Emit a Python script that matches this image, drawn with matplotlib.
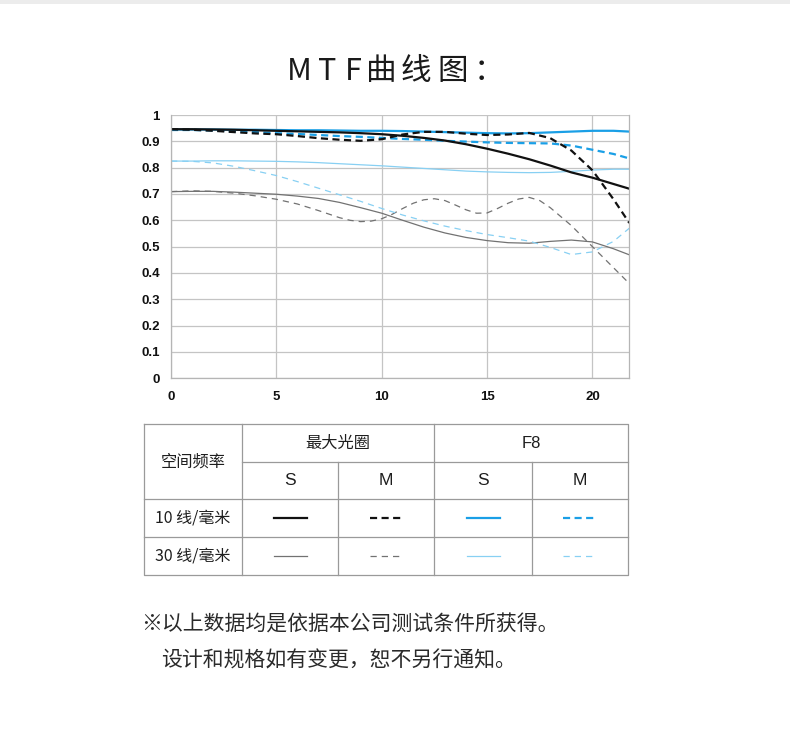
import matplotlib
matplotlib.use('Agg')
import matplotlib.pyplot as plt
from matplotlib.patches import Rectangle

# ---------------- data ----------------
freq = [0, 1, 2, 3, 4, 5, 6, 7, 8, 9, 10, 11, 12, 13, 14, 15, 16, 17, 18, 19, 20, 21, 21.75]

s10_max = [0.946, 0.946, 0.945, 0.944, 0.942, 0.940, 0.938, 0.936, 0.934, 0.931, 0.927, 0.921,
           0.913, 0.903, 0.889, 0.872, 0.853, 0.832, 0.808, 0.782, 0.762, 0.738, 0.720]
m10_max = [0.946, 0.944, 0.940, 0.935, 0.930, 0.927, 0.920, 0.912, 0.906, 0.902, 0.908, 0.926,
           0.936, 0.936, 0.929, 0.924, 0.926, 0.932, 0.912, 0.865, 0.790, 0.680, 0.590]
s10_f8 = [0.945, 0.945, 0.945, 0.944, 0.944, 0.943, 0.942, 0.942, 0.941, 0.940, 0.940, 0.939,
          0.937, 0.935, 0.933, 0.931, 0.930, 0.931, 0.934, 0.937, 0.940, 0.940, 0.937]
m10_f8 = [0.943, 0.943, 0.941, 0.938, 0.935, 0.931, 0.928, 0.924, 0.920, 0.917, 0.913, 0.909,
          0.906, 0.902, 0.899, 0.896, 0.894, 0.893, 0.892, 0.884, 0.868, 0.852, 0.835]
s30_f8 = [0.825, 0.825, 0.826, 0.826, 0.825, 0.824, 0.822, 0.819, 0.815, 0.811, 0.807, 0.802,
          0.797, 0.792, 0.787, 0.784, 0.782, 0.781, 0.782, 0.786, 0.791, 0.794, 0.794]
m30_f8 = [0.825, 0.824, 0.818, 0.805, 0.788, 0.770, 0.747, 0.722, 0.697, 0.672, 0.645, 0.620,
          0.598, 0.578, 0.561, 0.546, 0.534, 0.521, 0.497, 0.470, 0.480, 0.520, 0.570]
s30_max = [0.709, 0.710, 0.710, 0.707, 0.703, 0.699, 0.692, 0.683, 0.668, 0.648, 0.627, 0.600,
           0.574, 0.552, 0.535, 0.523, 0.515, 0.513, 0.520, 0.525, 0.518, 0.492, 0.469]
freq_m30_max = [0, 1, 2, 3, 4, 5, 6, 7, 8, 8.5, 9, 9.5, 10, 10.5, 11, 11.5, 12, 12.5, 13, 13.5,
                14, 14.5, 15, 15.5, 16, 16.5, 17, 17.5, 18, 19, 20, 21, 21.75]
m30_max = [0.709, 0.712, 0.710, 0.703, 0.693, 0.680, 0.662, 0.637, 0.610, 0.600, 0.595, 0.597,
           0.606, 0.623, 0.645, 0.665, 0.678, 0.682, 0.675, 0.658, 0.640, 0.627, 0.628, 0.645,
           0.665, 0.681, 0.687, 0.675, 0.648, 0.580, 0.500, 0.420, 0.360]

x_ticks = [0, 5, 10, 15, 20]
y_ticks = [0, 0.1, 0.2, 0.3, 0.4, 0.5, 0.6, 0.7, 0.8, 0.9, 1]
y_tick_labels = ['0', '0.1', '0.2', '0.3', '0.4', '0.5', '0.6', '0.7', '0.8', '0.9', '1']

title_chars = ['M', 'T', 'F', '曲', '线', '图', '：']
col_header = '空间频率'
group_labels = ['最大光圈', 'F8']
sub_labels = ['S', 'M', 'S', 'M']
row_labels = ['10 线/毫米', '30 线/毫米']
note_lines = ['※以上数据均是依据本公司测试条件所获得。', '设计和规格如有变更，恕不另行通知。']

# ---------------- styles ----------------
BLACK = '#111111'
BLUE = '#1a9fe6'
GRAY = '#727272'
LBLUE = '#88d0f3'
style_s10_max = dict(color=BLACK, lw=1.6, ls='-')
style_m10_max = dict(color=BLACK, lw=1.6, dashes=(3.2, 2))
style_s10_f8 = dict(color=BLUE, lw=1.6, ls='-')
style_m10_f8 = dict(color=BLUE, lw=1.6, dashes=(3.2, 2))
style_s30_max = dict(color=GRAY, lw=0.9, ls='-')
style_m30_max = dict(color=GRAY, lw=0.9, dashes=(5, 4))
style_s30_f8 = dict(color=LBLUE, lw=0.9, ls='-')
style_m30_f8 = dict(color=LBLUE, lw=0.9, dashes=(5, 4))

CJK = ['Noto Sans CJK SC', 'DejaVu Sans']

W, H = 790, 742
fig = plt.figure(figsize=(W / 100, H / 100), dpi=100)
fig.patch.set_facecolor('white')

# overlay (pixel coordinates) for title, table and notes
ov = fig.add_axes([0, 0, 1, 1])
ov.set_xlim(0, W)
ov.set_ylim(H, 0)
ov.axis('off')
ov.add_patch(Rectangle((0, 0), W, 4, color='#ececec', lw=0))

title_x = [299, 327.5, 353.5, 381, 416, 453, 488.5]
for ch, tx in zip(title_chars, title_x):
    ov.text(tx, 80, ch, ha='center', va='baseline', fontsize=22,
            family=CJK, fontweight='light', color='#1a1a1a')

# ---------------- chart ----------------
ax = fig.add_axes([171 / W, 1 - 378.3 / H, (629.3 - 171) / W, (378.3 - 115) / H])
ax.set_xlim(0, 21.75)
ax.set_ylim(0, 1)
ax.set_xticks(x_ticks)
ax.set_yticks(y_ticks)
ax.set_yticklabels(y_tick_labels)
ax.grid(True, color='#c4c4c4', lw=0.9)
ax.set_axisbelow(True)
for sp in ax.spines.values():
    sp.set_color('#b5b5b5')
    sp.set_linewidth(0.9)
ax.spines['top'].set_visible(False)
ax.tick_params(length=0, pad=8, labelsize=9.5, labelcolor='#111111')
for lab in ax.get_xticklabels() + ax.get_yticklabels():
    lab.set_family('Liberation Sans')
    lab.set_fontweight('bold')
ax.tick_params(axis='x', pad=9)

ax.plot(freq, s30_max, **style_s30_max)
ax.plot(freq_m30_max, m30_max, **style_m30_max)
ax.plot(freq, s30_f8, **style_s30_f8)
ax.plot(freq, m30_f8, **style_m30_f8)
ax.plot(freq, m10_f8, **style_m10_f8)
ax.plot(freq, s10_f8, **style_s10_f8)
ax.plot(freq, s10_max, **style_s10_max)
ax.plot(freq, m10_max, **style_m10_max)

# ---------------- table ----------------
TC = '#9a9a9a'
xs = [144.3, 241.7, 338.3, 434.3, 531.7, 627.7]
ys = [424.3, 461.7, 499.3, 537.3, 575]
tl = 0.9
ov.plot([xs[0], xs[-1], xs[-1], xs[0], xs[0]], [ys[0], ys[0], ys[-1], ys[-1], ys[0]], color=TC, lw=tl)
ov.plot([xs[1], xs[-1]], [ys[1], ys[1]], color=TC, lw=tl)
ov.plot([xs[0], xs[-1]], [ys[2], ys[2]], color=TC, lw=tl)
ov.plot([xs[0], xs[-1]], [ys[3], ys[3]], color=TC, lw=tl)
ov.plot([xs[1], xs[1]], [ys[0], ys[-1]], color=TC, lw=tl)
ov.plot([xs[3], xs[3]], [ys[0], ys[-1]], color=TC, lw=tl)
ov.plot([xs[2], xs[2]], [ys[1], ys[-1]], color=TC, lw=tl)
ov.plot([xs[4], xs[4]], [ys[1], ys[-1]], color=TC, lw=tl)

tcol = '#1e1e1e'
ov.text((xs[0] + xs[1]) / 2, (ys[0] + ys[2]) / 2, col_header, ha='center', va='center',
        fontsize=11.7, family=CJK, color=tcol)
ov.text((xs[1] + xs[3]) / 2, (ys[0] + ys[1]) / 2, group_labels[0], ha='center', va='center',
        fontsize=11.7, family=CJK, color=tcol)
ov.text((xs[3] + xs[5]) / 2, (ys[0] + ys[1]) / 2, group_labels[1], ha='center', va='center',
        fontsize=12, family='Liberation Sans', color=tcol)
for i, s in enumerate(sub_labels):
    ov.text((xs[i + 1] + xs[i + 2]) / 2, (ys[1] + ys[2]) / 2, s, ha='center', va='center',
            fontsize=12.5, family='Liberation Sans', color=tcol)
for j, r in enumerate(row_labels):
    ov.text((xs[0] + xs[1]) / 2, (ys[2 + j] + ys[3 + j]) / 2, r, ha='center', va='center',
            fontsize=11.5, family=CJK, color=tcol)

sample_styles = [[style_s10_max, style_m10_max, style_s10_f8, style_m10_f8],
                 [style_s30_max, style_m30_max, style_s30_f8, style_m30_f8]]
for j, row in enumerate(sample_styles):
    yc = (ys[2 + j] + ys[3 + j]) / 2
    for i, st in enumerate(row):
        xc = (xs[i + 1] + xs[i + 2]) / 2
        ov.plot([xc - 16.5, xc + 16.5], [yc, yc], **st)

# ---------------- notes ----------------
ov.text(141, 625, note_lines[0], ha='left', va='center', fontsize=15, family=CJK,
        fontweight='light', color='#2a2a2a')
ov.text(161, 660, note_lines[1], ha='left', va='center', fontsize=15, family=CJK,
        fontweight='light', color='#2a2a2a')

fig.savefig('out.png', dpi=100, facecolor='white')
